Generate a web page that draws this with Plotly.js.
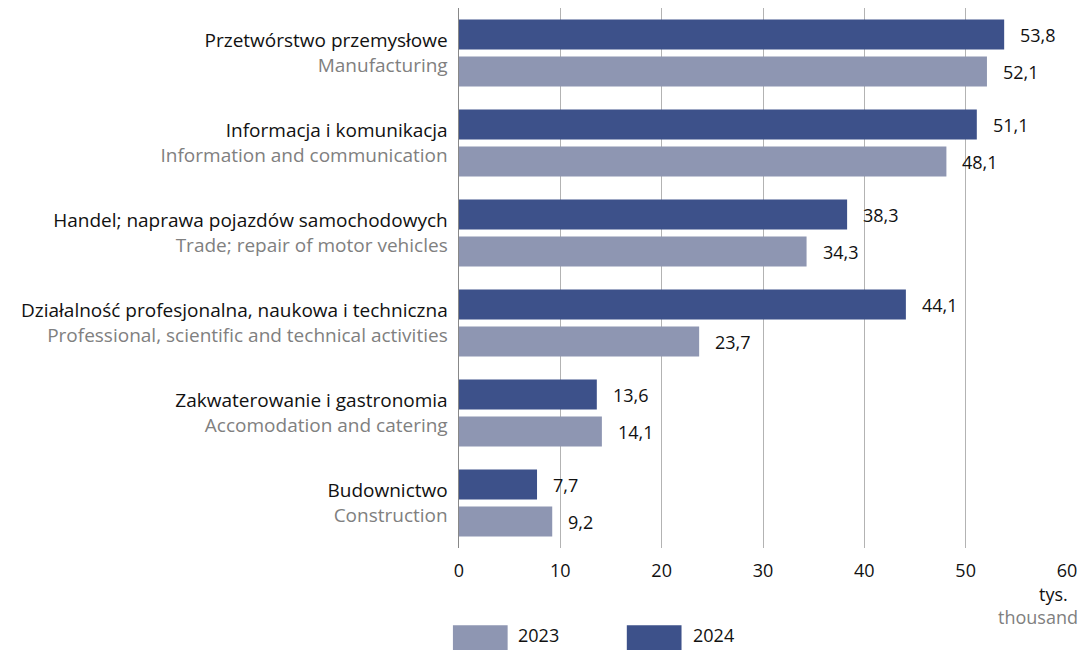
<!DOCTYPE html>
<html>
<head>
<meta charset="utf-8">
<script src="https://cdn.plot.ly/plotly-3.0.1.min.js"></script>
<style>html,body{margin:0;padding:0;background:#fff;}#chart{width:1086px;height:650px;}</style>
</head>
<body>
<div id="chart"></div>
<script>
const categoriesPL = [
  "Przetwórstwo przemysłowe",
  "Informacja i komunikacja",
  "Handel; naprawa pojazdów samochodowych",
  "Działalność profesjonalna, naukowa i techniczna",
  "Zakwaterowanie i gastronomia",
  "Budownictwo"
];
const categoriesEN = [
  "Manufacturing",
  "Information and communication",
  "Trade; repair of motor vehicles",
  "Professional, scientific and technical activities",
  "Accomodation and catering",
  "Construction"
];
const values2024 = [53.8, 51.1, 38.3, 44.1, 13.6, 7.7];
const values2023 = [52.1, 48.1, 34.3, 23.7, 14.1, 9.2];
const xTicks = [0, 10, 20, 30, 40, 50, 60];
const seriesNames = ["2023", "2024"];

const C2024 = "#3d518a";
const C2023 = "#8e96b2";
const FONT = "Open Sans";

const ticktext = categoriesPL.map((p, i) =>
  p + "<br><span style='color:#808080'>" + categoriesEN[i] + "</span>");
const fmt = v => v.toFixed(1).replace(".", ",");

const traces = [
  {type: "bar", orientation: "h", name: seriesNames[1], y: categoriesPL, x: values2024,
   marker: {color: C2024}, hoverinfo: "x", showlegend: false},
  {type: "bar", orientation: "h", name: seriesNames[0], y: categoriesPL, x: values2023,
   marker: {color: C2023}, hoverinfo: "x", showlegend: false}
];

const annotations = [];
categoriesPL.forEach((c, i) => {
  annotations.push({x: values2024[i], y: c, text: fmt(values2024[i]), xanchor: "left", yanchor: "middle",
    showarrow: false, xshift: 14, yshift: 18.5, font: {family: FONT, size: 18, color: "#111"}});
  annotations.push({x: values2023[i], y: c, text: fmt(values2023[i]), xanchor: "left", yanchor: "middle",
    showarrow: false, xshift: 14, yshift: -18.5, font: {family: FONT, size: 18, color: "#111"}});
});
annotations.push({xref: "paper", yref: "paper", x: 1.005, y: -0.085, xanchor: "right", yanchor: "middle",
  text: "tys.", showarrow: false, font: {family: FONT, size: 18, color: "#111"}});
annotations.push({xref: "paper", yref: "paper", x: 1.021, y: -0.128, xanchor: "right", yanchor: "middle",
  text: "thousand", showarrow: false, font: {family: FONT, size: 18, color: "#808080"}});
// legend labels
annotations.push({xref: "paper", yref: "paper", x: 0.094, y: -0.162, xanchor: "left", yanchor: "middle",
  text: seriesNames[0], showarrow: false, font: {family: FONT, size: 18, color: "#111"}});
annotations.push({xref: "paper", yref: "paper", x: 0.381, y: -0.162, xanchor: "left", yanchor: "middle",
  text: seriesNames[1], showarrow: false, font: {family: FONT, size: 18, color: "#111"}});

const shapes = [
  {type: "rect", xref: "paper", yref: "paper", x0: -0.01, x1: 0.08, y0: -0.196, y1: -0.143,
   fillcolor: C2023, line: {width: 0}},
  {type: "rect", xref: "paper", yref: "paper", x0: 0.276, x1: 0.366, y0: -0.196, y1: -0.143,
   fillcolor: C2024, line: {width: 0}}
];

const layout = {
  width: 1086, height: 650,
  margin: {l: 459, r: 19, t: 8, b: 102},
  paper_bgcolor: "#fff", plot_bgcolor: "#fff",
  separators: ", ",
  barmode: "group", bargap: 0.178, bargroupgap: 0.189,
  font: {family: FONT, size: 18, color: "#111"},
  xaxis: {range: [0, 60], tickvals: xTicks, showgrid: true, gridcolor: "#b3b3b3", gridwidth: 1,
    zeroline: false, showline: false, ticks: "", ticklabelstandoff: 10,
    tickfont: {family: FONT, size: 18, color: "#111"}, fixedrange: true},
  yaxis: {type: "category", autorange: "reversed", tickvals: categoriesPL, ticktext: ticktext,
    ticks: "", showgrid: false, zeroline: false, showline: true, linecolor: "#888", linewidth: 1.5,
    ticklabelstandoff: 6, tickfont: {family: FONT, size: 19, color: "#111"}, fixedrange: true},
  annotations: annotations,
  shapes: shapes,
  showlegend: false
};

Plotly.newPlot("chart", traces, layout, {displayModeBar: false, staticPlot: true});
</script>
</body>
</html>
